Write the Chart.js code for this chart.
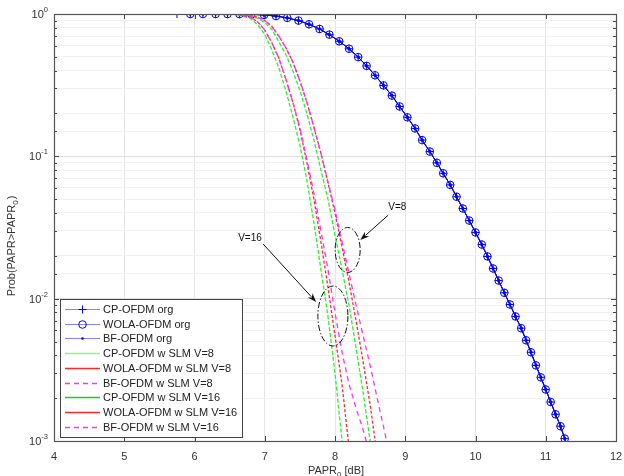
<!DOCTYPE html>
<html><head><meta charset="utf-8">
<script src="https://cdn.jsdelivr.net/npm/chart.js@4/dist/chart.umd.min.js"></script>
<style>html,body{margin:0;padding:0;background:#fff}#wrap{width:624px;height:476px}</style>
</head><body><div id="wrap"><canvas id="c" width="624" height="476"></canvas></div>
<script>
// ---- data (x in dB, y = CCDF) ----
const orgX = [5.75,5.94,6.12,6.30,6.47,6.64,6.81,6.99,7.16,7.32,7.48,7.63,7.78,7.92,8.06,8.20,8.33,8.45,8.57,8.69,8.81,8.92,9.03,9.14,9.24,9.35,9.45,9.54,9.64,9.73,9.82,9.91,10.00,10.09,10.17,10.25,10.33,10.41,10.49,10.57,10.65,10.72,10.79,10.86,10.93,11.00,11.07,11.14,11.21,11.27,11.34];
const orgP = [1,1,1,0.9998,0.9993,0.998,0.994,0.985,0.967,0.939,0.899,0.847,0.785,0.716,0.643,0.570,0.498,0.432,0.371,0.315,0.267,0.224,0.188,0.157,0.130,0.108,0.090,0.076,0.063,0.052,0.043,0.0354,0.0292,0.0240,0.0198,0.0163,0.0134,0.0110,0.0091,0.0075,0.0062,0.0051,0.0042,0.0034,0.0028,0.0023,0.00188,0.00154,0.00127,0.00104,0.00086];

const cp16X = [5.5,6.4,6.6,6.8,6.9,7.0,7.1,7.2,7.3,7.4,7.5,7.6,7.7,7.8,7.9,8.0,8.1,8.15];
const cp16P = [1,1,0.99,0.93,0.84,0.72,0.56,0.42,0.29,0.19,0.12,0.068,0.034,0.016,0.0075,0.003,0.001,0.0006];
const wola16X = [5.5,6.4,6.6,6.8,6.9,7.0,7.1,7.2,7.3,7.4,7.5,7.6,7.7,7.8,7.9,8.0,8.1,8.2,8.25];
const wola16P = [1,1,0.995,0.95,0.88,0.77,0.63,0.49,0.35,0.24,0.155,0.09,0.05,0.025,0.012,0.0055,0.0025,0.0009,0.0005];
const bf16X = [5.5,6.4,6.6,6.8,6.9,7.0,7.1,7.2,7.3,7.4,7.5,7.6,7.7,7.8,7.9,8.0,8.1,8.2,8.3,8.4,8.5];
const bf16P = [1,1,0.995,0.95,0.88,0.77,0.63,0.49,0.35,0.24,0.16,0.095,0.055,0.03,0.016,0.008,0.0042,0.0025,0.0017,0.0012,0.0008];

const cp8X = [5.5,6.5,6.7,6.9,7.0,7.1,7.2,7.3,7.4,7.5,7.6,7.7,7.8,7.9,8.0,8.1,8.2,8.3,8.4,8.5,8.55];
const cp8P = [1,1,0.99,0.93,0.87,0.78,0.64,0.52,0.40,0.29,0.20,0.13,0.08,0.05,0.028,0.016,0.009,0.0045,0.0022,0.001,0.0006];
const wola8X = [5.5,6.5,6.7,6.9,7.0,7.1,7.2,7.3,7.4,7.5,7.6,7.7,7.8,7.9,8.0,8.1,8.2,8.3,8.4,8.5,8.6,8.65];
const wola8P = [1,1,0.995,0.95,0.9,0.82,0.70,0.58,0.46,0.34,0.24,0.16,0.105,0.065,0.04,0.023,0.013,0.007,0.0036,0.0018,0.0008,0.0005];
const bf8X = [5.5,6.5,6.7,6.9,7.0,7.1,7.2,7.3,7.4,7.5,7.6,7.7,7.8,7.9,8.0,8.1,8.2,8.3,8.4,8.5,8.6,8.7,8.8];
const bf8P = [1,1,0.995,0.95,0.9,0.82,0.70,0.58,0.46,0.34,0.24,0.16,0.105,0.066,0.042,0.025,0.015,0.009,0.0055,0.0034,0.002,0.0012,0.0007];

const seriesLabels = ['CP-OFDM org','WOLA-OFDM org','BF-OFDM org','CP-OFDM w SLM V=8','WOLA-OFDM w SLM V=8','BF-OFDM w SLM V=8','CP-OFDM w SLM V=16','WOLA-OFDM w SLM V=16','BF-OFDM w SLM V=16'];
const xTicks = [4,5,6,7,8,9,10,11,12];
const yDecades = [0,-1,-2,-3];
// annotations: ellipse centers (x dB, log10 p) and arrows
const ellipses = [{x:8.18, lp:-1.658}, {x:7.97, lp:-2.122}];
const arrowText = [{text:'V=8', x:8.886, lp:-1.36, fx:8.758, flp:-1.413, tx:8.36, tlp:-1.588},
                   {text:'V=16', x:6.79, lp:-1.574, fx:6.977, flp:-1.616, tx:7.732, tlp:-2.024}];

function pts(xs, ps){ return xs.map((x,i)=>({x:x, y:ps[i]})); }

const BLUE='#0000ff', GREEN='#2ef02e', LGREEN='#7dff7d', DGREEN='#14d214', RED='#ff2828', MAG='#ff30ff';
const styles = [
  {c:BLUE, lc:'rgba(90,90,255,0.75)', dash:[], ps:'cross', r:4, plotDash:[]},
  {c:BLUE, lc:'rgba(90,90,255,0.75)', dash:[], ps:'circle', r:3.8, plotDash:[]},
  {c:BLUE, lc:'rgba(90,90,255,0.75)', dash:[], ps:'circle', r:1.3, fill:true, plotDash:[]},
  {c:GREEN, lc:LGREEN, dash:[], plotDash:[4,2]},
  {c:RED, lc:RED, dash:[], plotDash:[3,2]},
  {c:MAG, lc:MAG, dash:[5,4], plotDash:[5,4]},
  {c:GREEN, lc:DGREEN, dash:[], plotDash:[4,2]},
  {c:RED, lc:RED, dash:[], plotDash:[3,2]},
  {c:MAG, lc:MAG, dash:[5,4], plotDash:[5,4]}
];
const dataSets = [pts(orgX,orgP), pts(orgX.slice(1),orgP.slice(1)), pts(orgX.slice(1),orgP.slice(1)),
  pts(cp8X,cp8P), pts(wola8X,wola8P), pts(bf8X,bf8P), pts(cp16X,cp16P), pts(wola16X,wola16P), pts(bf16X,bf16P)];

const datasets = dataSets.map((d,i)=>{
  const s = styles[i];
  return {
    label: seriesLabels[i], data: d, borderColor: s.c, borderWidth: i<3?1:1.3,
    borderDash: s.plotDash, backgroundColor: s.fill ? s.c : 'rgba(0,0,0,0)',
    pointStyle: s.ps || false, pointRadius: s.ps ? s.r : 0, pointBorderColor: s.c,
    pointBorderWidth: 1, pointBackgroundColor: s.fill ? s.c : 'rgba(0,0,0,0)',
    pointHoverRadius: 0, tension: 0, fill: false, order: 9 - i
  };
});

const FONT = '"Liberation Sans", Arial, sans-serif';
const isMajor = v => Math.abs(Math.log10(v) - Math.round(Math.log10(v))) < 1e-6;

const decor = {
  id:'decor',
  afterDatasetsDraw(chart){
    const ctx = chart.ctx, a = chart.chartArea, xs = chart.scales.x, ys = chart.scales.y;
    ctx.save();
    // inward ticks
    ctx.strokeStyle = '#444'; ctx.lineWidth = 1;
    ctx.beginPath();
    xTicks.forEach(t=>{ const px = Math.round(xs.getPixelForValue(t))+0.5;
      ctx.moveTo(px,a.bottom); ctx.lineTo(px,a.bottom-5); ctx.moveTo(px,a.top); ctx.lineTo(px,a.top+5); });
    ys.ticks.forEach(t=>{ const py = Math.round(ys.getPixelForValue(t.value))+0.5; const L = isMajor(t.value)?5:3;
      ctx.moveTo(a.left,py); ctx.lineTo(a.left+L,py); ctx.moveTo(a.right,py); ctx.lineTo(a.right-L,py); });
    ctx.stroke();
    // box
    ctx.strokeStyle = '#555'; ctx.lineWidth = 1.2;
    ctx.strokeRect(Math.round(a.left)+0.5, Math.round(a.top)+0.5, Math.round(a.right-a.left), Math.round(a.bottom-a.top));
    // ellipses
    const radii = [[12.5,22.5],[15,30]];
    ctx.strokeStyle = '#111'; ctx.lineWidth = 1; ctx.setLineDash([6,2,1.5,2]);
    ellipses.forEach((e,i)=>{
      ctx.beginPath();
      ctx.ellipse(xs.getPixelForValue(e.x), ys.getPixelForValue(Math.pow(10,e.lp)), radii[i][0], radii[i][1], 0, 0, Math.PI*2);
      ctx.stroke();
    });
    ctx.setLineDash([]);
    // arrows + text
    ctx.fillStyle = '#111'; ctx.font = '10px ' + FONT; ctx.textAlign='center'; ctx.textBaseline='middle';
    arrowText.forEach(t=>{
      const x0 = xs.getPixelForValue(t.fx), y0 = ys.getPixelForValue(Math.pow(10,t.flp));
      const x1 = xs.getPixelForValue(t.tx), y1 = ys.getPixelForValue(Math.pow(10,t.tlp));
      const ang = Math.atan2(y1-y0, x1-x0), hl = 9, hw = 3.2;
      ctx.beginPath(); ctx.moveTo(x0,y0); ctx.lineTo(x1 - Math.cos(ang)*hl*0.8, y1 - Math.sin(ang)*hl*0.8); ctx.stroke();
      ctx.beginPath(); ctx.moveTo(x1,y1);
      ctx.lineTo(x1 - Math.cos(ang)*hl - Math.sin(ang)*hw, y1 - Math.sin(ang)*hl + Math.cos(ang)*hw);
      ctx.lineTo(x1 - Math.cos(ang)*hl*0.7, y1 - Math.sin(ang)*hl*0.7);
      ctx.lineTo(x1 - Math.cos(ang)*hl + Math.sin(ang)*hw, y1 - Math.sin(ang)*hl - Math.cos(ang)*hw);
      ctx.closePath(); ctx.fill();
      ctx.fillText(t.text, xs.getPixelForValue(t.x), ys.getPixelForValue(Math.pow(10,t.lp)));
    });
    ctx.restore();
  },
  afterDraw(chart){
    const ctx = chart.ctx, a = chart.chartArea, ys = chart.scales.y;
    ctx.save();
    // y tick labels with superscripts
    ctx.fillStyle = '#333';
    yDecades.forEach(k=>{
      const py = ys.getPixelForValue(Math.pow(10,k));
      const sup = String(k);
      ctx.font = '7.5px ' + FONT; const sw = ctx.measureText(sup).width;
      ctx.textBaseline='middle'; ctx.textAlign='right';
      ctx.fillText(sup, a.left - 6, py - 4);
      ctx.font = '11px ' + FONT;
      ctx.fillText('10', a.left - 6 - sw, py + 1);
    });
    // y title
    ctx.save();
    ctx.translate(12, 246); ctx.rotate(-Math.PI/2);
    ctx.textBaseline='middle'; ctx.textAlign='left';
    const p1 = 'Prob(PAPR>PAPR', p2='0', p3=')';
    ctx.font = '11px ' + FONT; const w1 = ctx.measureText(p1).width, w3 = ctx.measureText(p3).width;
    ctx.font = '8px ' + FONT; const w2 = ctx.measureText(p2).width;
    const tot = w1+w2+w3+1; let x = -tot/2;
    ctx.font = '11px ' + FONT; ctx.fillText(p1, x, 0); x += w1;
    ctx.font = '8px ' + FONT; ctx.fillText(p2, x, 4); x += w2+1;
    ctx.font = '11px ' + FONT; ctx.fillText(p3, x, 0);
    ctx.restore();
    // x title
    ctx.textBaseline='top'; ctx.textAlign='left';
    ctx.font = '11px ' + FONT; const a1='PAPR', a3=' [dB]'; const wa1 = ctx.measureText(a1).width, wa3 = ctx.measureText(a3).width;
    ctx.font = '8px ' + FONT; const wa2 = ctx.measureText('0').width;
    let xx = 336 - (wa1+wa2+wa3)/2;
    ctx.font = '11px ' + FONT; ctx.fillText(a1, xx, 465); xx += wa1;
    ctx.font = '8px ' + FONT; ctx.fillText('0', xx, 471); xx += wa2;
    ctx.font = '11px ' + FONT; ctx.fillText(a3, xx, 465);
    // legend
    const L = 60, T = 299, R = 242, B = 437;
    ctx.fillStyle = '#fff'; ctx.fillRect(L, T, R-L, B-T);
    ctx.strokeStyle = '#444'; ctx.lineWidth = 1; ctx.strokeRect(L+0.5, T+0.5, R-L, B-T);
    chart.data.datasets.forEach((ds,i)=>{
      const s = styles[i]; const y = Math.round(T + 10 + i*14.7) + 0.5;
      ctx.strokeStyle = s.lc; ctx.lineWidth = i<3 ? 1 : 1.5; ctx.setLineDash(s.dash);
      ctx.beginPath(); ctx.moveTo(65,y); ctx.lineTo(100,y); ctx.stroke(); ctx.setLineDash([]);
      if (s.ps){
        ctx.strokeStyle = s.c; ctx.fillStyle = s.c; ctx.lineWidth = 1;
        if (s.ps==='cross'){ ctx.beginPath(); ctx.moveTo(82.5,y-4); ctx.lineTo(82.5,y+4); ctx.moveTo(78.5,y); ctx.lineTo(86.5,y); ctx.stroke(); }
        else if (s.fill){ ctx.beginPath(); ctx.arc(82.5,y,1.3,0,Math.PI*2); ctx.fill(); }
        else { ctx.beginPath(); ctx.arc(82.5,y,3.8,0,Math.PI*2); ctx.stroke(); }
      }
      ctx.fillStyle = '#222'; ctx.font = '11px ' + FONT; ctx.textAlign='left'; ctx.textBaseline='middle';
      ctx.fillText(ds.label, 103, y+0.5);
    });
    ctx.restore();
  }
};

new Chart(document.getElementById('c'), {
  type:'line',
  data:{ datasets },
  options:{
    responsive:false, animation:false, devicePixelRatio:1,
    layout:{ padding:{ top:14, right:0, left:0, bottom:0 } },
    plugins:{ legend:{display:false}, tooltip:{enabled:false} },
    elements:{ line:{ borderCapStyle:'butt' } },
    scales:{
      x:{ type:'linear', min:4, max:12,
        afterFit(s){ s.height = 35; s.paddingLeft = 0; s.paddingRight = 8; },
        afterBuildTicks(s){ s.ticks = xTicks.map(v=>({value:v})); },
        ticks:{ padding:9, color:'#333', font:{family:FONT, size:11}, callback:v=>String(v), maxRotation:0 },
        grid:{ color:'#e4e4e4', drawTicks:false, lineWidth:1 }, border:{display:false} },
      y:{ type:'logarithmic', min:0.001, max:1,
        afterFit(s){ s.width = 54; s.paddingTop = 0; s.paddingBottom = 0; },
        ticks:{ display:false },
        grid:{ drawTicks:false, color: c => (c.tick && isMajor(c.tick.value)) ? '#e0e0e0' : '#f2f2f2', lineWidth:1 },
        border:{display:false} }
    }
  },
  plugins:[decor]
});
</script></body></html>
